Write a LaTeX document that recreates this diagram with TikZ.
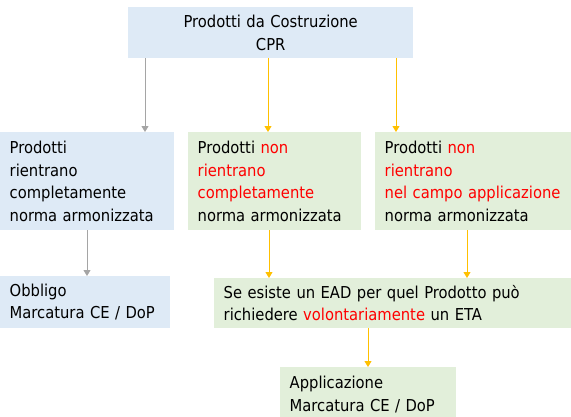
\documentclass[tikz,border=0pt]{standalone}
\usepackage{fontspec}
\setmainfont{DejaVu Sans Condensed}
\usetikzlibrary{arrows.meta}
\definecolor{boxblue}{RGB}{222,234,246}
\definecolor{boxgreen}{RGB}{226,239,218}
\definecolor{arrowyellow}{RGB}{255,192,0}
\definecolor{arrowgray}{RGB}{165,165,165}
\definecolor{txtred}{RGB}{255,0,0}
\newcommand{\rd}[1]{\textcolor{txtred}{#1}}
\tikzset{
  boxbase/.style={anchor=north west, inner ysep=0pt, inner xsep=9.5pt, align=left,
    font=\fontsize{16.4}{22.5}\selectfont, text=black},
  bluebox/.style={boxbase, fill=boxblue},
  greenbox/.style={boxbase, fill=boxgreen},
  garrow/.style={draw=arrowgray, line width=0.9pt, -{Triangle[width=7pt,length=6pt]}},
  yarrow/.style={draw=arrowyellow, line width=0.9pt, -{Triangle[width=7pt,length=6pt]}},
}
\begin{document}
\begin{tikzpicture}[x=1pt,y=-1pt]
\useasboundingbox (0,0) rectangle (571,416);
\clip (0,0) rectangle (571,416);
\node[bluebox, align=center, text width=266pt, minimum height=51pt] (top) at (128,7) {Prodotti da Costruzione\\CPR};
\node[bluebox, text width=155pt, minimum height=98pt] (b1) at (0,132) {Prodotti\\rientrano\\completamente\\norma armonizzata};
\node[greenbox, text width=154pt, minimum height=98pt] (b2) at (188,132) {Prodotti \rd{non}\\\rd{rientrano}\\\rd{completamente}\\norma armonizzata};
\node[greenbox, text width=177pt, minimum height=98pt] (b3) at (375,132) {Prodotti \rd{non}\\\rd{rientrano}\\\rd{nel campo applicazione}\\norma armonizzata};
\node[bluebox, text width=151pt, minimum height=52pt] (obb) at (0,276) {Obbligo\\Marcatura CE / DoP};
\node[greenbox, text width=338pt, minimum height=50pt] (ead) at (214,278) {Se esiste un EAD per quel Prodotto può\\richiedere \rd{volontariamente} un ETA};
\node[greenbox, text width=157pt, minimum height=55pt] (app) at (280,367) {Applicazione\\Marcatura CE / DoP};
\coordinate (x1) at (145,0);
\coordinate (x2) at (268,0);
\coordinate (x3) at (396,0);
\coordinate (x4) at (87,0);
\coordinate (x5) at (269,0);
\coordinate (x6) at (467,0);
\coordinate (x7) at (368,0);
\draw[garrow] (top.south -| x1) -- (b1.north -| x1);
\draw[yarrow] (top.south -| x2) -- (b2.north -| x2);
\draw[yarrow] (top.south -| x3) -- (b3.north -| x3);
\draw[garrow] (b1.south -| x4) -- (obb.north -| x4);
\draw[yarrow] (b2.south -| x5) -- (ead.north -| x5);
\draw[yarrow] (b3.south -| x6) -- (ead.north -| x6);
\draw[yarrow] (ead.south -| x7) -- (app.north -| x7);
\end{tikzpicture}
\end{document}
